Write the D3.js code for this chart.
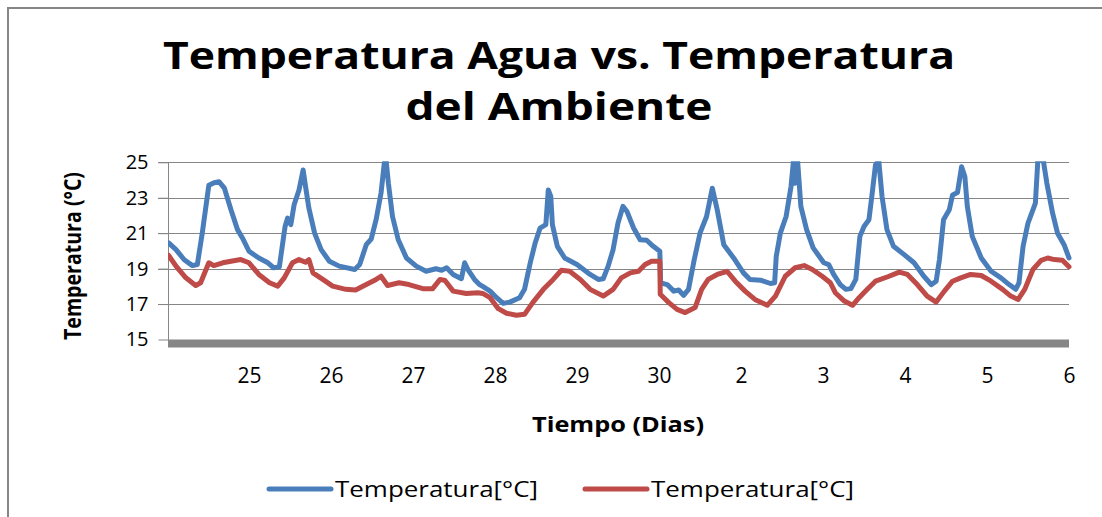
<!DOCTYPE html>
<html>
<head>
<meta charset="utf-8">
<style>
  body { margin: 0; background: #fff; }
  svg { display: block; }
</style>
</head>
<body>
<svg width="1102" height="517" font-family="'Open Sans', sans-serif"></svg>

<script src="https://cdn.jsdelivr.net/npm/d3@7"></script>

<script>

// dias desde el 24 (0 = 24, 1 = 25 ... 11 = 6)
var dayTicks = [1, 2, 3, 4, 5, 6, 7, 8, 9, 10, 11];
var dayLabels = ["25", "26", "27", "28", "29", "30", "2", "3", "4", "5", "6"];
var tempTicks = [15, 17, 19, 21, 23, 25];

var seriesNames = ["Temperatura[°C]", "Temperatura[°C]"];

// temperatura del agua (azul)
var waterDays = [0.02,0.11,0.21,0.31,0.37,0.43,0.51,0.575,0.636,0.70,0.78,0.86,0.92,1.0,1.12,1.23,1.30,1.37,1.44,1.47,1.51,1.55,1.61,1.66,1.69,1.73,1.80,1.88,1.98,2.10,2.29,2.35,2.43,2.49,2.55,2.61,2.65,2.67,2.70,2.75,2.82,2.92,3.04,3.16,3.28,3.35,3.41,3.49,3.59,3.63,3.67,3.75,3.81,3.85,3.94,4.02,4.10,4.18,4.30,4.36,4.43,4.49,4.55,4.62,4.65,4.68,4.70,4.76,4.85,5.0,5.16,5.26,5.32,5.38,5.44,5.50,5.56,5.61,5.69,5.77,5.85,5.93,6.01,6.02,6.10,6.18,6.24,6.30,6.36,6.43,6.50,6.58,6.65,6.71,6.79,6.91,7.03,7.11,7.24,7.36,7.41,7.43,7.48,7.55,7.61,7.64,7.66,7.69,7.73,7.80,7.88,8.01,8.07,8.13,8.21,8.28,8.34,8.40,8.45,8.50,8.56,8.60,8.64,8.68,8.72,8.78,8.86,8.99,9.11,9.23,9.32,9.38,9.42,9.47,9.54,9.58,9.64,9.69,9.73,9.76,9.82,9.93,10.05,10.17,10.27,10.35,10.39,10.44,10.50,10.56,10.59,10.62,10.68,10.73,10.80,10.86,10.94,11.0];
var waterTemps = [20.45,20.07,19.5,19.17,19.23,21.0,23.7,23.85,23.9,23.54,22.32,21.2,20.73,19.98,19.6,19.33,19.05,19.1,21.38,21.85,21.48,22.6,23.44,24.57,23.63,22.42,21.0,20.07,19.42,19.14,18.95,19.23,20.35,20.67,21.76,23.26,24.95,25.2,23.82,21.94,20.63,19.6,19.14,18.85,18.99,18.91,19.05,18.67,18.43,19.33,18.95,18.39,18.1,18.0,17.73,17.36,17.04,17.11,17.36,17.83,19.33,20.45,21.29,21.48,23.44,23.07,21.48,20.26,19.6,19.23,18.67,18.39,18.43,19.14,20.07,21.57,22.51,22.22,21.29,20.63,20.6,20.26,19.98,18.2,18.1,17.73,17.79,17.49,17.83,19.51,21.0,21.94,23.54,22.32,20.35,19.6,18.76,18.39,18.35,18.16,18.2,19.7,21.0,21.94,23.63,25.1,23.82,25.1,22.51,21.2,20.17,19.33,19.23,18.67,18.1,17.83,17.87,18.39,20.82,21.38,21.76,23.26,24.85,25.1,23.07,21.2,20.26,19.79,19.33,18.57,18.1,18.29,19.51,21.76,22.32,23.16,23.29,24.75,24.19,22.51,20.82,19.6,18.85,18.48,18.1,17.83,18.2,20.26,21.57,22.32,22.7,25.1,25.3,23.82,22.13,21.0,20.35,19.6];

// temperatura del ambiente (rojo)
var airDays = [0.02,0.11,0.23,0.35,0.41,0.51,0.57,0.68,0.78,0.90,1.0,1.12,1.25,1.35,1.43,1.53,1.61,1.69,1.73,1.78,1.90,2.02,2.18,2.30,2.43,2.55,2.61,2.69,2.83,2.95,3.12,3.24,3.33,3.39,3.49,3.65,3.79,3.85,3.94,4.04,4.14,4.26,4.36,4.46,4.59,4.71,4.81,4.91,5.04,5.16,5.32,5.44,5.54,5.65,5.75,5.83,5.91,6.01,6.015,6.12,6.22,6.32,6.44,6.52,6.60,6.71,6.83,6.93,7.05,7.17,7.32,7.42,7.54,7.66,7.77,7.87,7.99,8.09,8.15,8.26,8.36,8.44,8.54,8.64,8.79,8.93,9.03,9.15,9.27,9.38,9.48,9.58,9.68,9.80,9.93,10.05,10.19,10.29,10.38,10.46,10.56,10.66,10.74,10.82,10.92,11.0];
var airTemps = [19.74,19.14,18.48,18.05,18.2,19.33,19.17,19.33,19.42,19.51,19.33,18.67,18.2,18.01,18.48,19.33,19.51,19.36,19.51,18.76,18.39,18.01,17.83,17.79,18.1,18.39,18.57,18.05,18.2,18.1,17.87,17.87,18.39,18.33,17.73,17.6,17.64,17.6,17.36,16.74,16.48,16.37,16.42,17.08,17.83,18.39,18.91,18.85,18.39,17.83,17.45,17.83,18.48,18.76,18.85,19.23,19.42,19.42,17.55,17.08,16.7,16.52,16.8,17.83,18.39,18.67,18.85,18.29,17.73,17.26,16.93,17.45,18.57,19.05,19.17,18.95,18.57,18.2,17.64,17.17,16.93,17.36,17.83,18.29,18.54,18.8,18.67,18.1,17.45,17.11,17.73,18.29,18.48,18.67,18.61,18.29,17.83,17.45,17.26,17.83,18.95,19.47,19.6,19.51,19.47,19.1];

var svg = d3.select("svg");

var plotLeft = 168, plotRight = 1069, plotTop = 162.3, plotBottom = 339.5;

var x = d3.scaleLinear().domain([0, 11]).range([plotLeft - 1, plotRight]);
var y = d3.scaleLinear().domain([15, 25]).range([plotBottom, plotTop]);

var blue = "#4a7ebb", red = "#be4b48", grey = "#868686";

// marco del grafico
svg.append("path")
    .attr("d", "M8,517 V8 H1102")
    .attr("fill", "none")
    .attr("stroke", grey)
    .attr("stroke-width", 2);

// titulo
var title = svg.append("g")
    .attr("font-weight", "bold")
    .attr("font-size", 37)
    .attr("text-anchor", "middle")
    .attr("fill", "#000");

title.append("text")
    .attr("x", 559).attr("y", 69)
    .attr("textLength", 792).attr("lengthAdjust", "spacingAndGlyphs")
    .text("Temperatura Agua vs. Temperatura");

title.append("text")
    .attr("x", 559).attr("y", 120)
    .attr("textLength", 307).attr("lengthAdjust", "spacingAndGlyphs")
    .text("del Ambiente");

// lineas de la grilla
svg.append("g")
  .selectAll("line")
  .data(tempTicks.filter(function(d) { return d > 15; }))
  .enter().append("line")
    .attr("x1", plotLeft - 10)
    .attr("x2", plotRight)
    .attr("y1", function(d) { return Math.round(y(d)) + 0.5; })
    .attr("y2", function(d) { return Math.round(y(d)) + 0.5; })
    .attr("stroke", grey)
    .attr("stroke-width", 1);

// eje Y
var yAxis = svg.append("g")
    .attr("transform", "translate(" + (plotLeft + 0.5) + ",0)")
    .call(d3.axisLeft(y).tickValues(tempTicks).tickSize(10).tickPadding(10));

yAxis.select(".domain").attr("stroke", grey).attr("d", "M0," + plotTop + "V" + (plotBottom + 4));
yAxis.selectAll(".tick line").attr("stroke", grey);
yAxis.selectAll(".tick text")
    .attr("font-family", "'Open Sans', sans-serif")
    .attr("font-size", 20)
    .attr("fill", "#000");

// eje X (banda gris gruesa)
svg.append("line")
    .attr("x1", plotLeft)
    .attr("x2", plotRight)
    .attr("y1", plotBottom + 4)
    .attr("y2", plotBottom + 4)
    .attr("stroke", grey)
    .attr("stroke-width", 8);

var xAxis = svg.append("g")
    .attr("transform", "translate(0," + (plotBottom + 4) + ")")
    .call(d3.axisBottom(x).tickValues(dayTicks)
      .tickFormat(function(d, i) { return dayLabels[i]; })
      .tickSize(0).tickPadding(25));

xAxis.select(".domain").remove();
xAxis.selectAll(".tick text")
    .attr("font-family", "'Open Sans', sans-serif")
    .attr("font-size", 21)
    .attr("fill", "#000");

// titulos de ejes
svg.append("text")
    .attr("transform", "translate(81,256) rotate(-90)")
    .attr("text-anchor", "middle")
    .attr("font-weight", "bold")
    .attr("font-size", 23)
    .attr("textLength", 168).attr("lengthAdjust", "spacingAndGlyphs")
    .text("Temperatura (°C)");

svg.append("text")
    .attr("x", 618).attr("y", 432)
    .attr("text-anchor", "middle")
    .attr("font-weight", "bold")
    .attr("font-size", 21)
    .attr("textLength", 172).attr("lengthAdjust", "spacingAndGlyphs")
    .text("Tiempo (Dias)");

// series
svg.append("clipPath")
    .attr("id", "plot")
  .append("rect")
    .attr("x", plotLeft)
    .attr("y", plotTop - 1)
    .attr("width", plotRight - plotLeft + 4)
    .attr("height", plotBottom - plotTop + 10);

var line = d3.line()
    .x(function(d) { return x(d[0]); })
    .y(function(d) { return y(d[1]); });

var series = [
  { color: blue, points: d3.zip(waterDays, waterTemps) },
  { color: red, points: d3.zip(airDays, airTemps) }
];

svg.append("g")
    .attr("clip-path", "url(#plot)")
  .selectAll("path")
  .data(series)
  .enter().append("path")
    .attr("d", function(d) { return line(d.points); })
    .attr("fill", "none")
    .attr("stroke", function(d) { return d.color; })
    .attr("stroke-width", 5)
    .attr("stroke-linejoin", "round")
    .attr("stroke-linecap", "round");

// leyenda
var legendPos = [269, 585];

var legend = svg.append("g")
  .selectAll("g")
  .data(series)
  .enter().append("g")
    .attr("transform", function(d, i) { return "translate(" + legendPos[i] + ",489)"; });

legend.append("line")
    .attr("x1", 0).attr("x2", 62)
    .attr("stroke", function(d) { return d.color; })
    .attr("stroke-width", 5)
    .attr("stroke-linecap", "round");

legend.append("text")
    .attr("x", 66).attr("y", 8)
    .attr("font-size", 22)
    .attr("textLength", 203).attr("lengthAdjust", "spacingAndGlyphs")
    .text(function(d, i) { return seriesNames[i]; });

</script>
</body>
</html>
